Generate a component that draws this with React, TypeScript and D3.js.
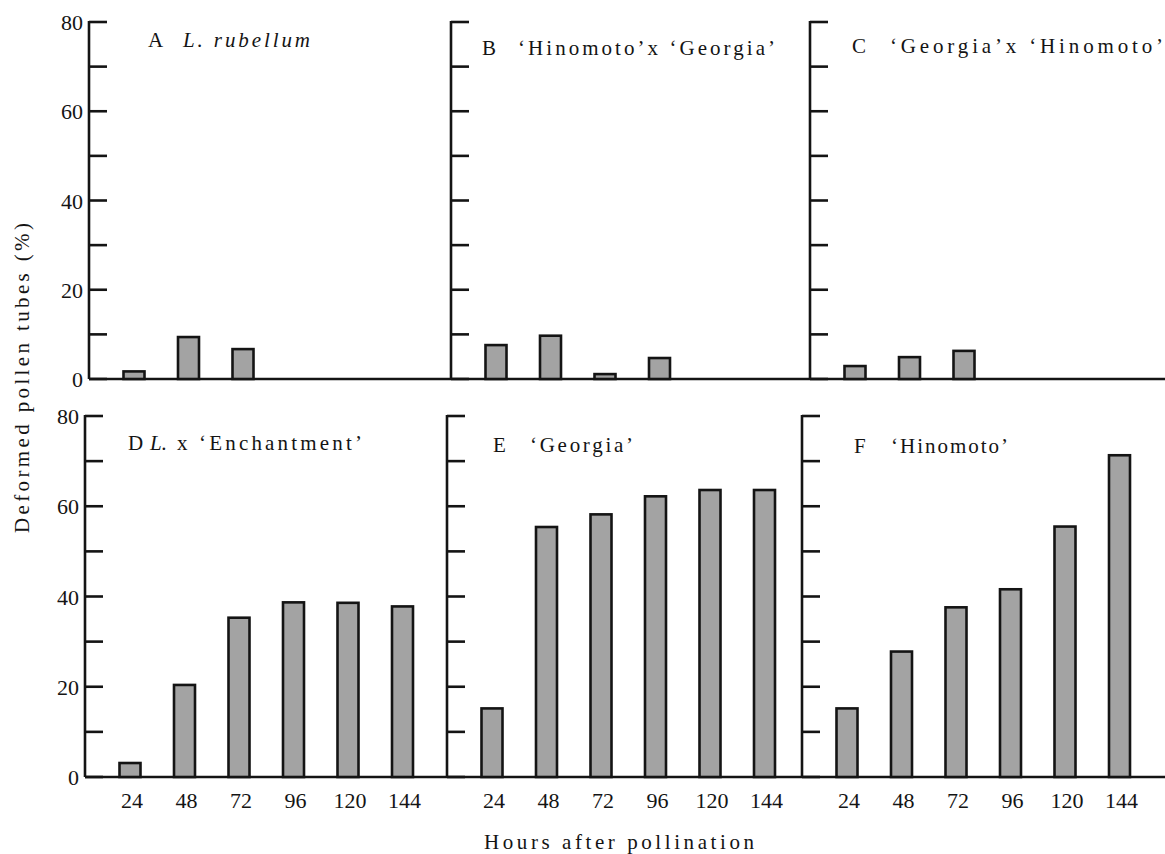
import React from "react";
import * as d3 from "d3";

// ---- data ----
const hours = ["24", "48", "72", "96", "120", "144"];
const yTicks = [0, 10, 20, 30, 40, 50, 60, 70, 80];
const yTickLabels = [0, 20, 40, 60, 80];

const valuesA = [1.7, 9.4, 6.7];
const valuesB = [7.6, 9.7, 1.1, 4.7];
const valuesC = [2.9, 4.9, 6.3];
const valuesD = [3.1, 20.4, 35.3, 38.7, 38.6, 37.8];
const valuesE = [15.2, 55.4, 58.2, 62.2, 63.6, 63.6];
const valuesF = [15.2, 27.8, 37.6, 41.6, 55.5, 71.3];

const panelLetters = ["A", "B", "C", "D", "E", "F"];
const panelItalic = ["L. rubellum", "", "", "L.", "", ""];
const panelNames = ["", "‘Hinomoto’x ‘Georgia’", "‘Georgia’x ‘Hinomoto’", "x ‘Enchantment’", "‘Georgia’", "‘Hinomoto’"];

const yTitle = "Deformed pollen tubes (%)";
const xTitle = "Hours after pollination";

// ---- layout ----
const W = 1165;
const H = 854;
const rows = [
  { y0: 379, y80: 22 },
  { y0: 777, y80: 416 },
];
const axisXs = [
  [89, 451, 810],
  [85, 447, 802],
];
// title placement: [letterX, baseline, italicX, italicLen, nameX, nameLen]
const titleLayout = [
  [148, 47, 183, 127, 0, 0],
  [482, 55, 0, 0, 518, 257],
  [852, 53, 0, 0, 890, 273],
  [128, 450, 150, 17, 177, 185],
  [493, 452, 0, 0, 530, 103],
  [854, 453, 0, 0, 891, 117],
];

const allValues = [valuesA, valuesB, valuesC, valuesD, valuesE, valuesF];

const FONT = "'Liberation Serif', 'DejaVu Serif', serif";
const INK = "#141414";

export default function App() {
  const panels = allValues.map((vals, idx) => {
    const row = Math.floor(idx / 3);
    const col = idx % 3;
    const ax = axisXs[row][col];
    const y = d3.scaleLinear().domain([0, 80]).range([rows[row].y0, rows[row].y80]);
    const x = d3.scalePoint<string>().domain(hours).range([ax + 45, ax + 45 + 272.5]);
    return { vals, row, col, ax, x, y, idx };
  });

  const barW = 21;

  return (
    <svg
      width={W}
      height={H}
      style={{ position: "absolute", left: 0, top: 0, background: "#fff" }}
      fontFamily={FONT}
    >
      <rect x={0} y={0} width={W} height={H} fill="#fff" />
      {/* row baselines */}
      {rows.map((r, ri) => (
        <line key={"base" + ri} x1={axisXs[ri][0]} x2={W} y1={r.y0} y2={r.y0} stroke={INK} strokeWidth={2.6} />
      ))}
      {panels.map((p) => {
        const t = titleLayout[p.idx];
        return (
          <g key={"p" + p.idx}>
            {/* bars */}
            {p.vals.map((v, i) => {
              const cx = p.x(hours[i]) as number;
              return (
                <rect
                  key={"b" + i}
                  x={cx - barW / 2}
                  y={p.y(v)}
                  width={barW}
                  height={p.y(0) - p.y(v)}
                  fill="#a3a3a3"
                  stroke={INK}
                  strokeWidth={2.6}
                />
              );
            })}
            {/* y axis */}
            <line x1={p.ax} x2={p.ax} y1={p.y(80) - 1} y2={p.y(0)} stroke={INK} strokeWidth={2.6} />
            {yTicks.map((tk) => (
              <line key={"t" + tk} x1={p.ax} x2={p.ax + 18} y1={p.y(tk)} y2={p.y(tk)} stroke={INK} strokeWidth={2.6} />
            ))}
            {p.col === 0 &&
              yTickLabels.map((tk) => (
                <text key={"yl" + tk} x={p.ax - 6} y={p.y(tk) + 8} textAnchor="end" fontSize={22} fill={INK}>
                  {tk}
                </text>
              ))}
            {p.row === 1 &&
              hours.map((h) => (
                <text key={"xl" + h} x={(p.x(h) as number) + 2} y={808} textAnchor="middle" fontSize={22} fill={INK}>
                  {h}
                </text>
              ))}
            {/* title */}
            <text x={t[0]} y={t[1]} fontSize={21} fill={INK}>
              {panelLetters[p.idx]}
            </text>
            {panelItalic[p.idx] && (
              <text
                x={t[2]}
                y={t[1]}
                fontSize={21}
                fontStyle="italic"
                fill={INK}
                textLength={t[3]}
                lengthAdjust="spacing"
              >
                {panelItalic[p.idx]}
              </text>
            )}
            {panelNames[p.idx] && (
              <text x={t[4]} y={t[1]} fontSize={21} fill={INK} textLength={t[5]} lengthAdjust="spacing">
                {panelNames[p.idx]}
              </text>
            )}
          </g>
        );
      })}
      {/* axis titles */}
      <text
        transform="translate(29,378) rotate(-90)"
        textAnchor="middle"
        fontSize={21}
        fill={INK}
        textLength={310}
        lengthAdjust="spacing"
      >
        {yTitle}
      </text>
      <text x={484} y={849} fontSize={21} fill={INK} textLength={270} lengthAdjust="spacing">
        {xTitle}
      </text>
    </svg>
  );
}
